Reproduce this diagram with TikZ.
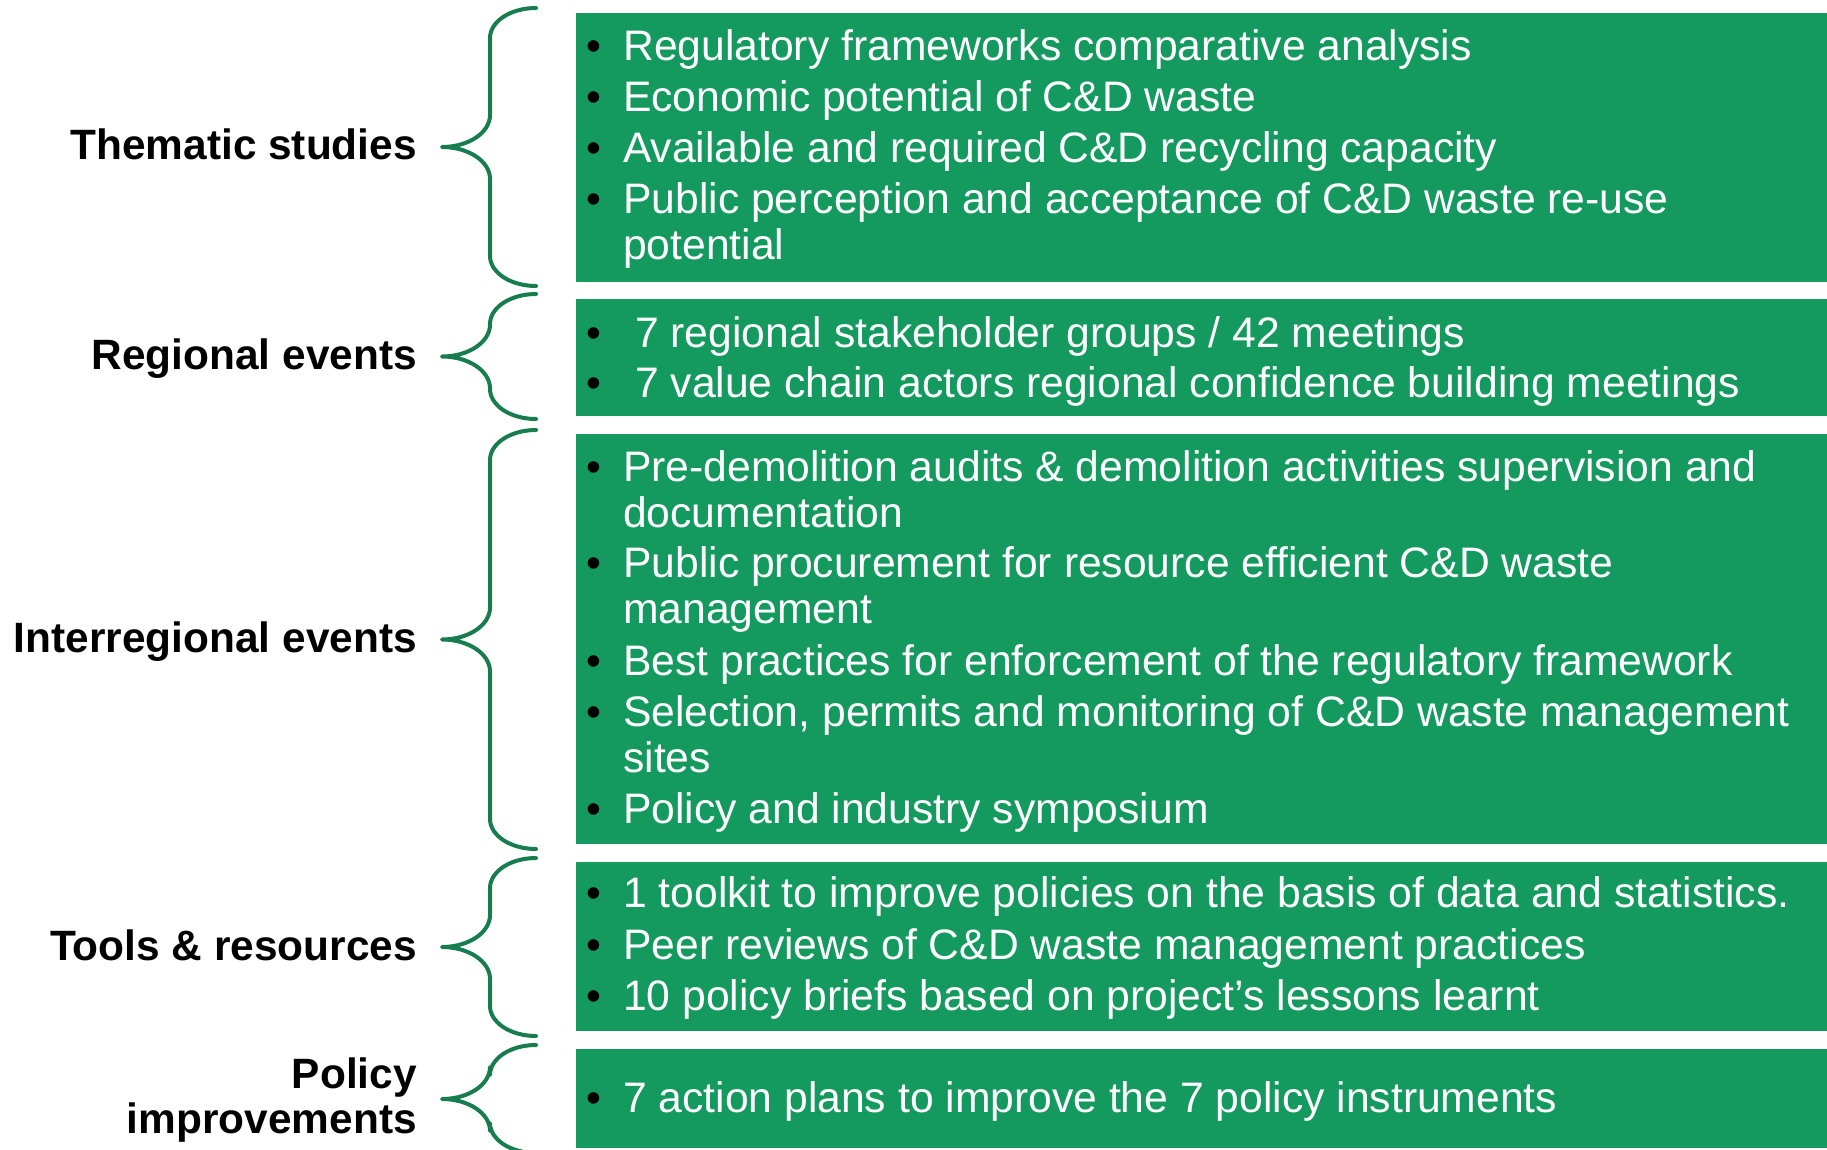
\documentclass[tikz,border=0pt]{standalone}
\usepackage{fontspec}
\setmainfont{Liberation Sans}
\definecolor{boxgreen}{RGB}{20,154,94}
\definecolor{bracegreen}{RGB}{24,125,78}
\tikzset{
  itemtext/.style={font=\fontsize{42.65}{46.6}\selectfont, text=white, inner sep=0pt, anchor=base west},
  bulletmark/.style={font=\fontsize{42.4}{46.6}\selectfont, text=black, inner sep=0pt, anchor=base},
  grouplabel/.style={font=\fontsize{42.4}{46.6}\selectfont\bfseries, text=black, inner sep=0pt, anchor=base east},
  greenbox/.style={fill=boxgreen, draw=none},
  bracestyle/.style={draw=bracegreen, line width=4pt, line cap=round, line join=round}
}
% brace: #1 top y, #2 bottom y, #3 tip name
\newcommand\drawbrace[3]{%
  \coordinate (#3) at (442,{(#1+#2)/2});
  \draw[bracestyle] (536,#1) .. controls (510.6,#1) and (490,{#1+13.4}) .. (490,{#1+30})
    -- (490,{(#1+#2)/2-32}) .. controls (490,{(#1+#2)/2-14.3}) and (468.5,{(#1+#2)/2}) .. (#3)
    .. controls (468.5,{(#1+#2)/2}) and (490,{(#1+#2)/2+14.3}) .. (490,{(#1+#2)/2+32})
    -- (490,{#2-30}) .. controls (490,{#2-13.4}) and (510.6,#2) .. (536,#2);
}
\newcommand\bl[3]{% name, y, text (bulleted line)
  \node[bulletmark] (#1b) at (594,#2) {•};
  \node[itemtext] (#1) at (623,#2) {#3};
}
\newcommand\cl[3]{% continuation line
  \node[itemtext] (#1) at (623,#2) {#3};
}
\begin{document}
\begin{tikzpicture}[x=1pt,y=-1pt]
\useasboundingbox (0,0) rectangle (1827,1150);
% boxes
\fill[greenbox] (576,13) rectangle (1827,282);
\fill[greenbox] (576,299) rectangle (1827,416);
\fill[greenbox] (576,434) rectangle (1827,844);
\fill[greenbox] (576,862) rectangle (1827,1031);
\fill[greenbox] (576,1049) rectangle (1827,1148);
% braces
\drawbrace{8}{286}{t1}
\drawbrace{294}{419}{t2}
\drawbrace{430}{849}{t3}
\drawbrace{858}{1036}{t4}
\drawbrace{1045}{1153}{t5}
% labels
\node[grouplabel] (g1) at ([shift={(-25,13)}]t1) {Thematic studies};
\node[grouplabel] (g2) at ([shift={(-25,13)}]t2) {Regional events};
\node[grouplabel] (g3) at ([shift={(-25,13)}]t3) {Interregional events};
\node[grouplabel] (g4) at ([shift={(-25,13)}]t4) {Tools \& resources};
\node[grouplabel] (g5a) at ([shift={(-25,-11)}]t5) {Policy};
\node[grouplabel] (g5b) at ([shift={(-25,34)}]t5) {improvements};
% box 1
\bl{a1}{61}{Regulatory frameworks comparative analysis}
\bl{a2}{112}{Economic potential of C\&D waste}
\bl{a3}{163}{Available and required C\&D recycling capacity}
\bl{a4}{214}{Public perception and acceptance of C\&D waste re-use}
\cl{a5}{260}{potential}
% box 2
\node[bulletmark] (b1b) at (594,347) {•};
\node[itemtext] (b1) at (635,347) {7 regional stakeholder groups / 42 meetings};
\node[bulletmark] (b2b) at (594,397) {•};
\node[itemtext] (b2) at (635,397) {7 value chain actors regional confidence building meetings};
% box 3
\bl{c1}{481}{Pre-demolition audits \& demolition activities supervision and}
\cl{c2}{527}{documentation}
\bl{c3}{577}{Public procurement for resource efficient C\&D waste}
\cl{c4}{623}{management}
\bl{c5}{675}{Best practices for enforcement of the regulatory framework}
\bl{c6}{726}{Selection, permits and monitoring of C\&D waste management}
\cl{c7}{772}{sites}
\bl{c8}{823}{Policy and industry symposium}
% box 4
\bl{d1}{907}{1 toolkit to improve policies on the basis of data and statistics.}
\bl{d2}{959}{Peer reviews of C\&D waste management practices}
\bl{d3}{1010}{10 policy briefs based on project’s lessons learnt}
% box 5
\bl{e1}{1112}{7 action plans to improve the 7 policy instruments}
\end{tikzpicture}
\end{document}
